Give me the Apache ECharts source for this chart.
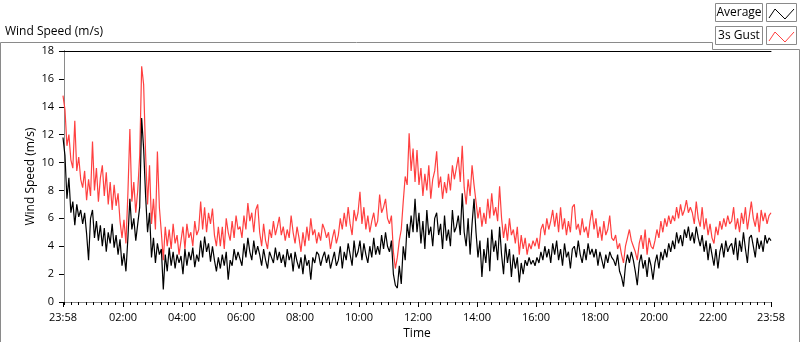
<!DOCTYPE html>
<html>
<head>
<meta charset="utf-8">
<script src="https://cdn.jsdelivr.net/npm/echarts@6/dist/echarts.min.js"></script>
<style>
  html, body { margin: 0; padding: 0; background: #fff; }
  #chart { width: 800px; height: 342px; }
</style>
</head>
<body>
<div id="chart"></div>
<script>
// minutes relative to midnight; first sample is 23:58 of the previous day
const startMinute = -2
const stepMinutes = 4

// 1-sample-per-4-min readings, m/s
const avgSpeed = [
  11.8, 10.5, 7.4, 8.9, 6.4, 7.2, 5.5, 7.0, 6.1, 6.6,
  5.6, 6.4, 4.9, 3.0, 6.0, 6.6, 4.6, 5.8, 4.4, 5.5,
  4.0, 5.3, 3.6, 5.0, 4.2, 5.6, 3.9, 4.8, 3.4, 4.5,
  2.6, 3.5, 2.2, 4.6, 7.4, 5.2, 6.0, 4.4, 5.6, 6.8,
  13.2, 11.0, 7.6, 5.0, 6.4, 3.2, 4.6, 2.8, 4.2, 3.4,
  3.8, 0.9, 3.4, 2.2, 3.9, 2.6, 3.6, 2.4, 3.4, 2.8,
  3.3, 2.0, 3.8, 2.6, 3.6, 3.0, 3.9, 2.5, 3.4, 2.9,
  4.4, 3.2, 4.7, 3.6, 4.2, 2.9, 4.0, 3.0, 2.2, 3.2,
  2.4, 3.4, 2.6, 3.6, 1.6, 3.0, 2.6, 3.8, 3.0, 3.6,
  3.6, 2.6, 4.2, 3.2, 4.6, 3.6, 3.0, 4.4, 3.4, 4.0,
  3.4, 2.6, 3.8, 3.0, 2.4, 3.6, 3.2, 2.8, 3.9, 3.0,
  3.6, 2.8, 3.4, 2.5, 3.8, 3.0, 3.5, 2.2, 3.6, 2.9,
  2.4, 3.2, 2.0, 3.4, 2.6, 3.0, 1.6, 3.2, 2.8, 3.6,
  3.4, 2.6, 3.2, 3.6, 2.8, 3.4, 2.4, 3.0, 3.6, 2.6,
  3.0, 4.0, 2.4, 3.6, 3.0, 4.2, 3.4, 2.6, 4.4, 3.2,
  3.6, 4.4, 3.0, 4.2, 3.4, 2.8, 4.0, 3.2, 4.6, 3.4,
  4.0, 3.4, 4.8, 3.8, 5.0, 4.0, 3.6, 4.4, 2.0, 1.2,
  1.0, 2.6, 1.3, 4.0, 3.0, 5.6, 4.6, 6.2, 5.0, 7.4,
  5.0, 6.4, 4.2, 5.8, 3.8, 6.6, 4.8, 5.4, 4.0, 6.0,
  6.4, 4.8, 5.6, 3.8, 6.2, 4.4, 5.2, 4.0, 6.6, 5.0,
  5.4, 6.2, 4.8, 7.8, 5.0, 4.0, 6.0, 3.4, 5.6, 7.4,
  5.0, 3.2, 4.4, 1.8, 3.8, 2.8, 4.6, 2.2, 5.2, 3.6,
  4.4, 3.0, 5.4, 3.4, 2.0, 4.2, 2.8, 3.8, 1.8, 3.4,
  2.4, 3.2, 1.4, 2.8, 2.0, 3.0, 2.6, 3.2, 2.7, 3.0,
  2.6, 3.2, 2.8, 3.6, 3.0, 4.0, 3.2, 3.8, 2.8, 4.2,
  3.4, 4.4, 3.0, 3.8, 2.6, 4.2, 3.2, 3.6, 2.4, 3.8,
  4.0, 3.2, 4.4, 3.4, 2.8, 3.8, 3.0, 4.2, 3.4, 3.8,
  3.2, 3.8, 2.6, 3.6, 3.0, 2.4, 3.4, 2.8, 3.6, 3.2,
  3.0, 2.6, 3.4, 2.2, 1.8, 1.1, 2.6, 3.4, 2.8, 3.6,
  3.0, 2.2, 1.2, 2.8, 3.4, 2.4, 3.0, 1.8, 3.2, 2.6,
  1.6, 2.8, 3.4, 2.4, 3.6, 3.0, 3.8, 3.2, 4.2, 3.6,
  4.4, 3.8, 5.0, 4.2, 4.8, 4.0, 5.2, 4.6, 5.4, 4.4,
  5.0, 4.2, 5.4, 4.6, 4.0, 4.8, 3.6, 4.4, 3.0, 4.2,
  3.4, 2.6, 3.8, 2.4, 3.6, 4.2, 3.2, 4.4, 3.6, 4.0,
  4.2, 3.4, 4.6, 3.0, 4.4, 3.6, 5.0, 3.8, 2.8, 4.6,
  4.8, 4.0, 3.2, 4.6, 3.8, 4.4, 3.6, 4.8, 4.2, 4.6,
  4.4
]

const gustSpeed = [
  14.8, 13.8, 11.2, 12.0, 10.2, 9.6, 13.0, 9.4, 10.4, 8.8,
  8.2, 9.4, 7.3, 8.8, 7.6, 11.5, 8.0, 9.6, 7.2, 8.9,
  9.8, 7.6, 9.3, 7.0, 8.6, 6.6, 8.4, 6.9, 7.8, 5.8,
  4.6, 5.9, 4.2, 7.8, 12.4, 7.2, 8.6, 6.4, 8.0, 10.5,
  16.9, 15.6, 10.6, 7.0, 9.8, 5.6, 7.4, 5.2, 10.8, 6.8,
  5.0, 3.0, 5.4, 4.0, 5.2, 3.8, 5.6, 4.2, 4.8, 3.4,
  4.4, 5.4, 3.8, 5.6, 4.6, 5.0, 4.0, 5.8, 4.8, 5.2,
  7.2, 5.2, 6.8, 5.0, 6.4, 5.6, 6.7, 4.8, 4.0, 5.4,
  4.0, 5.4, 3.8, 6.0, 5.0, 4.4, 5.8, 4.6, 6.2, 5.2,
  5.4, 4.6, 6.2, 5.2, 7.1, 5.8, 6.4, 5.0, 6.6, 7.0,
  5.0, 4.0, 5.6, 4.4, 3.8, 5.2, 4.6, 5.8, 4.8, 5.4,
  6.1, 4.8, 5.4, 4.4, 5.2, 4.6, 6.2, 5.0, 4.2, 5.4,
  4.6, 3.6, 5.0, 4.0, 5.4, 4.4, 6.0, 4.8, 5.2, 4.2,
  5.0, 4.4, 5.6, 5.2, 4.6, 5.0, 3.8, 4.6, 5.2, 4.2,
  4.8, 6.0, 5.2, 6.4, 5.4, 6.8, 5.6, 4.8, 6.6, 5.8,
  6.4, 7.9, 5.6, 6.8, 5.2, 6.2, 5.0, 5.8, 6.4, 5.4,
  5.8, 7.7, 6.4, 6.8, 7.4, 6.0, 5.6, 6.2, 3.6, 2.4,
  3.2, 4.4, 5.2, 7.2, 9.0, 8.4, 12.1, 9.4, 11.0, 8.6,
  10.9, 8.4, 9.6, 7.6, 9.2, 8.0, 9.8, 7.4, 8.8, 9.4,
  10.8, 8.2, 9.0, 7.4, 8.6, 7.8, 9.2, 8.0, 9.8, 8.8,
  9.6, 10.4, 8.6, 11.2, 8.2, 7.0, 8.8, 7.6, 9.8, 8.4,
  7.2, 6.0, 6.8, 5.4, 6.4, 5.6, 7.4, 6.0, 7.8, 6.2,
  6.8, 5.8, 8.3, 6.0, 4.6, 5.6, 4.4, 6.0, 4.8, 5.2,
  4.2, 5.4, 3.4, 4.8, 3.8, 4.6, 3.4, 4.2, 3.8, 4.4,
  4.0, 4.6, 3.8, 5.2, 5.6, 4.8, 6.0, 5.2, 5.8, 6.6,
  5.4, 6.4, 5.0, 6.8, 5.2, 6.0, 4.8, 5.8, 5.0, 6.8,
  7.0, 5.2, 5.6, 4.8, 6.0, 5.0, 5.4, 4.6, 5.8, 6.6,
  5.2, 6.0, 4.6, 5.4, 4.4, 5.8, 4.8, 5.2, 6.2, 4.6,
  4.4, 4.8, 3.8, 4.2, 3.4, 2.8, 4.0, 4.6, 5.2, 4.4,
  4.0, 3.6, 3.0, 4.2, 4.8, 3.8, 5.2, 3.4, 4.6, 4.0,
  3.8, 4.4, 5.2, 4.6, 5.8, 5.0, 6.0, 5.4, 6.2, 5.6,
  6.2, 5.8, 6.8, 6.0, 7.0, 6.2, 6.6, 7.3, 6.4, 6.8,
  6.4, 5.6, 7.2, 6.0, 5.4, 6.8, 5.2, 6.0, 4.8, 5.6,
  4.6, 4.2, 5.4, 4.8, 5.8, 5.2, 6.0, 5.4, 6.2, 5.6,
  5.8, 6.8, 5.2, 6.0, 5.0, 6.4, 5.6, 6.8, 5.2, 6.2,
  7.2, 6.0, 5.4, 6.4, 5.0, 6.6, 5.8, 6.4, 5.6, 6.2,
  6.4
]

// labelled ticks: 23:58, every 2 h, 23:58
const majorTicks = [-2, 120, 240, 360, 480, 600, 720, 840, 960, 1080, 1200, 1320, 1438]
const minorStep = 15

const seriesNames = ['Average', '3s Gust']
const seriesColors = ['#000000', '#ff4040']

const font = 'Open Sans'

const minorTicks = []
for (let m = 0; m < 1438; m += minorStep) minorTicks.push(m)

const toPairs = (arr) => arr.map((v, i) => [startMinute + i * stepMinutes, v])

const fmtTime = (v) => {
  const m = ((Math.round(v) % 1440) + 1440) % 1440
  const hh = String(Math.floor(m / 60)).padStart(2, '0')
  const mm = String(m % 60).padStart(2, '0')
  return hh + ':' + mm
}

const chart = echarts.init(document.getElementById('chart'), null, { renderer: 'canvas' })

const legendItem = (y, name, color) => [
  {
    type: 'rect',
    shape: { x: 715.5, y: y + 0.5, width: 47, height: 18 },
    style: { fill: '#fff', stroke: '#8a8a8a', lineWidth: 1 }
  },
  {
    type: 'text',
    x: 739, y: y + 10,
    style: { text: name, font: '12px "' + font + '"', fill: '#000', align: 'center', verticalAlign: 'middle' }
  },
  {
    type: 'rect',
    shape: { x: 766.5, y: y + 0.5, width: 30, height: 18 },
    style: { fill: '#fff', stroke: '#8a8a8a', lineWidth: 1 }
  },
  {
    type: 'polyline',
    shape: { points: [[769, y + 15], [775, y + 6], [785, y + 16], [794, y + 6]] },
    style: { stroke: color, lineWidth: 1, fill: null }
  }
]

const option = {
  animation: false,
  backgroundColor: '#fff',
  textStyle: { fontFamily: font },
  grid: { left: 63, right: 29, top: 51, bottom: 40, outerBoundsMode: 'none', containLabel: false },
  xAxis: [
    {
      type: 'value', min: -2, max: 1438, position: 'bottom',
      name: 'Time', nameLocation: 'middle', nameGap: 26, nameMoveOverlap: false,
      nameTextStyle: { fontSize: 12, color: '#000', fontFamily: font },
      axisLine: { show: true, lineStyle: { color: '#8a8a8a', width: 1 } },
      axisTick: { show: true, customValues: majorTicks, length: 5, lineStyle: { color: '#000' } },
      axisLabel: { customValues: majorTicks, formatter: fmtTime, margin: 10, fontSize: 11, color: '#000', fontFamily: font },
      splitLine: { show: false }
    },
    {
      type: 'value', min: -2, max: 1438, position: 'bottom',
      axisLine: { show: false },
      axisTick: { show: true, customValues: minorTicks, length: 3, lineStyle: { color: '#000' } },
      axisLabel: { show: false },
      splitLine: { show: false }
    },
    {
      type: 'value', min: -2, max: 1438, position: 'top',
      axisLine: { show: true, lineStyle: { color: '#000', width: 1 } },
      axisTick: { show: false }, axisLabel: { show: false }, splitLine: { show: false }
    }
  ],
  yAxis: [
    {
      type: 'value', min: 0, max: 18, interval: 2, position: 'left',
      name: 'Wind Speed (m/s)', nameLocation: 'middle', nameGap: 26, nameRotate: 90, nameMoveOverlap: false,
      nameTextStyle: { fontSize: 12, color: '#000', fontFamily: font },
      axisLine: { show: true, lineStyle: { color: '#000', width: 1 } },
      axisTick: { show: true, length: 5, lineStyle: { color: '#000' } },
      axisLabel: { margin: 9, fontSize: 11, color: '#000', fontFamily: font },
      splitLine: { show: false }
    },
    {
      type: 'value', min: 0, max: 18, position: 'right',
      axisLine: { show: true, lineStyle: { color: '#8a8a8a', width: 1 } },
      axisTick: { show: false }, axisLabel: { show: false }, splitLine: { show: false }
    }
  ],
  series: [
    {
      name: seriesNames[1], type: 'line', data: toPairs(gustSpeed),
      showSymbol: false, symbol: 'none', sampling: null,
      lineStyle: { color: seriesColors[1], width: 1.2 }, z: 2
    },
    {
      name: seriesNames[0], type: 'line', data: toPairs(avgSpeed),
      showSymbol: false, symbol: 'none', sampling: null,
      lineStyle: { color: seriesColors[0], width: 1.2 }, z: 3
    }
  ],
  graphic: [
    {
      type: 'polyline',
      shape: { points: [[0.5, 342], [0.5, 42.5], [712.5, 42.5], [712.5, 49.5], [799.5, 49.5], [799.5, 342]] },
      style: { stroke: '#8a8a8a', lineWidth: 1, fill: null }
    },
    {
      type: 'text', x: 5, y: 32,
      style: { text: 'Wind Speed (m/s)', font: '12px "' + font + '"', fill: '#000', verticalAlign: 'middle' }
    },
    ...legendItem(3, seriesNames[0], seriesColors[0]),
    ...legendItem(26, seriesNames[1], seriesColors[1])
  ]
}

chart.setOption(option)
</script>
</body>
</html>
